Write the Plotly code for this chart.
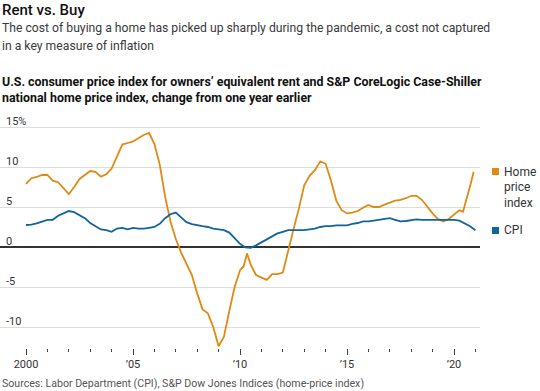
import plotly.graph_objects as go

# ---- data ----
hpi_x = [2000.00, 2000.25, 2000.50, 2000.75, 2001.00, 2001.25, 2001.50, 2001.75,
         2002.00, 2002.25, 2002.50, 2002.75, 2003.00, 2003.25, 2003.50, 2003.75,
         2004.00, 2004.25, 2004.50, 2004.75, 2005.00, 2005.25, 2005.50, 2005.75,
         2006.00, 2006.25, 2006.50, 2006.75, 2007.00, 2007.25, 2007.50, 2007.75,
         2008.00, 2008.25, 2008.50, 2008.75, 2009.00, 2009.25, 2009.50, 2009.75,
         2010.00, 2010.17, 2010.33, 2010.50, 2010.75, 2011.00, 2011.25, 2011.50, 2011.75,
         2012.00, 2012.25, 2012.50, 2012.75, 2013.00, 2013.25, 2013.50, 2013.75,
         2014.00, 2014.25, 2014.50, 2014.75, 2015.00, 2015.25, 2015.50, 2015.75,
         2016.00, 2016.25, 2016.50, 2016.75, 2017.00, 2017.25, 2017.50, 2017.75,
         2018.00, 2018.25, 2018.50, 2018.75, 2019.00, 2019.25, 2019.50, 2019.75,
         2020.00, 2020.25, 2020.42, 2020.58, 2020.75, 2020.92]
hpi_y = [7.9, 8.6, 8.75, 9.0, 9.0, 8.3, 8.1, 7.3,
         6.6, 7.5, 8.5, 9.0, 9.5, 9.4, 8.8, 9.1,
         9.8, 11.3, 12.8, 13.0, 13.2, 13.6, 14.0, 14.25,
         12.9, 10.3, 6.3, 3.2, 1.0, -0.7, -2.0, -3.5,
         -5.8, -7.8, -8.3, -10.0, -12.4, -11.2, -8.0, -5.0,
         -2.9, -2.4, -0.8, -2.2, -3.5, -3.8, -4.1, -3.4, -3.4,
         -3.2, -0.3, 2.2, 4.8, 7.7, 8.9, 9.6, 10.7,
         10.4, 8.3, 5.8, 4.6, 4.2, 4.3, 4.5, 4.9,
         5.25, 5.0, 5.0, 5.3, 5.6, 5.8, 5.9, 6.1,
         6.4, 6.4, 5.9, 5.0, 4.2, 3.5, 3.2, 3.5,
         4.1, 4.6, 4.4, 5.8, 7.6, 9.4]

cpi_x = [2000.00, 2000.25, 2000.50, 2000.75, 2001.00, 2001.25, 2001.50, 2001.75,
         2002.00, 2002.25, 2002.50, 2002.75, 2003.00, 2003.25, 2003.50, 2003.75,
         2004.00, 2004.25, 2004.50, 2004.75, 2005.00, 2005.25, 2005.50, 2005.75,
         2006.00, 2006.25, 2006.50, 2006.75, 2007.00, 2007.25, 2007.50, 2007.75,
         2008.00, 2008.25, 2008.50, 2008.75, 2009.00, 2009.25, 2009.50, 2009.75,
         2010.00, 2010.25, 2010.50, 2010.75, 2011.00, 2011.25, 2011.50, 2011.75,
         2012.00, 2012.25, 2012.50, 2012.75, 2013.00, 2013.25, 2013.50, 2013.75,
         2014.00, 2014.25, 2014.50, 2014.75, 2015.00, 2015.25, 2015.50, 2015.75,
         2016.00, 2016.25, 2016.50, 2016.75, 2017.00, 2017.25, 2017.50, 2017.75,
         2018.00, 2018.25, 2018.50, 2018.75, 2019.00, 2019.25, 2019.50, 2019.75,
         2020.00, 2020.25, 2020.50, 2020.75, 2021.00]
cpi_y = [2.75, 2.8, 2.95, 3.2, 3.4, 3.4, 3.9, 4.2,
         4.5, 4.35, 4.0, 3.6, 3.0, 2.6, 2.2, 2.1,
         1.9, 2.3, 2.4, 2.2, 2.4, 2.3, 2.3, 2.4,
         2.5, 2.9, 3.6, 4.1, 4.3, 3.7, 3.1, 2.85,
         2.7, 2.6, 2.5, 2.3, 2.2, 2.1, 1.8, 1.1,
         0.4, -0.05, -0.1, 0.2, 0.6, 0.9, 1.3, 1.7,
         1.9, 2.1, 2.1, 2.1, 2.1, 2.2, 2.3, 2.5,
         2.6, 2.6, 2.7, 2.7, 2.7, 2.9, 3.0, 3.2,
         3.2, 3.3, 3.4, 3.5, 3.6, 3.4, 3.2, 3.25,
         3.35, 3.45, 3.4, 3.4, 3.4, 3.4, 3.4, 3.4,
         3.4, 3.3, 3.0, 2.6, 2.1]

x_tickvals = [2000, 2005, 2010, 2015, 2020]
x_ticktext = ["2000", "\u201905", "\u201910", "\u201915", "\u201920"]
x_minorvals = list(range(2000, 2022))
y_tickvals = [-10, -5, 0, 5, 10, 15]
y_ticktext = ["-10", "-5", "0", "5", "10", "15%"]

ORANGE = "#E08A12"
BLUE = "#11649C"
FONT = "Roboto"

fig = go.Figure()
fig.add_trace(go.Scatter(x=hpi_x, y=hpi_y, mode="lines", name="Home price index",
                         line=dict(color=ORANGE, width=1.8)))
fig.add_trace(go.Scatter(x=cpi_x, y=cpi_y, mode="lines", name="CPI",
                         line=dict(color=BLUE, width=1.8)))

W, H = 540, 391
ML, MR, MT, MB = 0, 60, 120, 43
plot_w = W - ML - MR
plot_h = H - MT - MB


def py(pix):
    return (H - MB - pix) / plot_h


def px(pix):
    return (pix - ML) / plot_w


fig.update_layout(
    width=W, height=H, template="none",
    margin=dict(l=ML, r=MR, t=MT, b=MB, pad=0),
    paper_bgcolor="white", plot_bgcolor="white",
    showlegend=False,
    font=dict(family=FONT, size=11, color="#333333"),
    xaxis=dict(range=[1998.785, 2021.215], tickmode="array", tickvals=x_tickvals,
               ticktext=x_ticktext, ticks="outside", ticklen=6, tickwidth=1,
               tickcolor="#444444", showgrid=False, zeroline=False, showline=False,
               automargin=False, tickfont=dict(size=11, color="#333333"),
               minor=dict(tickmode="array", tickvals=x_minorvals, ticks="outside",
                          ticklen=3, tickwidth=1, tickcolor="#444444", showgrid=False)),
    yaxis=dict(range=[-12.625, 15.875], tickmode="array", tickvals=y_tickvals,
               showticklabels=False, ticks="", showgrid=True, gridcolor="#dcdcdc",
               gridwidth=1, zeroline=True, zerolinecolor="#333333", zerolinewidth=1.5,
               showline=False, automargin=False),
)

ann = []
# y tick labels sitting on top of their gridlines
for v, t in zip(y_tickvals, y_ticktext):
    ann.append(dict(text=t, x=px(4), y=v, xref="paper", yref="y", xanchor="left",
                    yanchor="bottom", yshift=-3, showarrow=False,
                    font=dict(size=11, color="#333333", family=FONT)))

ann.append(dict(text="Rent vs. Buy", x=0, y=py(10.5), xref="paper", yref="paper",
                xanchor="left", yanchor="middle", showarrow=False,
                font=dict(size=15, color="#111111", family=FONT, weight=500)))
ann.append(dict(text="The cost of buying a home has picked up sharply during the pandemic, a cost not captured",
                x=0, y=py(28.5), xref="paper", yref="paper", xanchor="left", yanchor="middle",
                showarrow=False, font=dict(size=12.2, color="#3a3a3a", family=FONT)))
ann.append(dict(text="in a key measure of inflation",
                x=0, y=py(45.5), xref="paper", yref="paper", xanchor="left", yanchor="middle",
                showarrow=False, font=dict(size=12.2, color="#3a3a3a", family=FONT)))
ann.append(dict(text="U.S. consumer price index for owners\u2019 equivalent rent and S&P CoreLogic Case-Shiller",
                x=0, y=py(81), xref="paper", yref="paper", xanchor="left", yanchor="middle",
                showarrow=False, font=dict(size=12.4, color="#111111", family=FONT, weight="bold")))
ann.append(dict(text="national home price index, change from one year earlier",
                x=0, y=py(97), xref="paper", yref="paper", xanchor="left", yanchor="middle",
                showarrow=False, font=dict(size=12.4, color="#111111", family=FONT, weight="bold")))
ann.append(dict(text="Sources: Labor Department (CPI), S&P Dow Jones Indices (home-price index)",
                x=0, y=py(383.5), xref="paper", yref="paper", xanchor="left", yanchor="middle",
                showarrow=False, font=dict(size=10.6, color="#555555", family=FONT)))

# legend labels
for word, pix in [("Home", 171.5), ("price", 187), ("index", 202.5), ("CPI", 230)]:
    ann.append(dict(text=word, x=px(502), y=py(pix), xref="paper", yref="paper",
                    xanchor="left", yanchor="middle", showarrow=False,
                    font=dict(size=12, color="#333333", family=FONT)))
fig.update_layout(annotations=ann)

fig.add_shape(type="rect", xref="paper", yref="paper", x0=px(492), x1=px(499),
              y0=py(175), y1=py(168), fillcolor=ORANGE, line=dict(width=0))
fig.add_shape(type="rect", xref="paper", yref="paper", x0=px(492), x1=px(499),
              y0=py(234), y1=py(227), fillcolor=BLUE, line=dict(width=0))

fig.write_html("out.html", config={"displayModeBar": False},
               post_script="document.body.style.margin='0';document.body.style.padding='0';")
